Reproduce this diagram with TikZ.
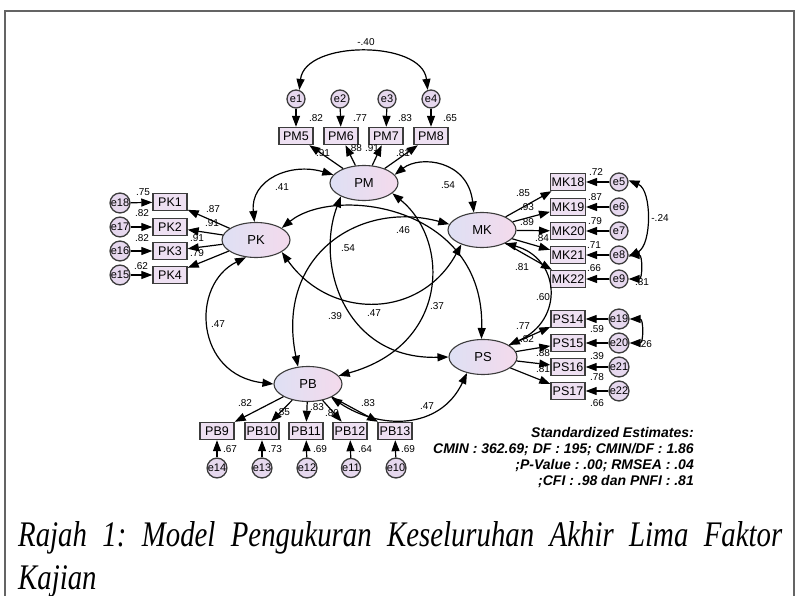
\documentclass[tikz,border=0pt]{standalone}
\usepackage{fontspec}
\setmainfont{Liberation Sans}
\newfontfamily\capfont[FakeStretch=0.8]{Liberation Serif}
\usetikzlibrary{shapes.geometric,arrows.meta}

\definecolor{latleft}{RGB}{222,224,244}
\definecolor{latright}{RGB}{244,218,236}
\definecolor{obsfill}{RGB}{238,224,242}
\definecolor{errfill}{RGB}{230,216,238}
\definecolor{linegray}{RGB}{60,60,60}
\definecolor{boxline}{RGB}{100,100,100}

\tikzset{
  lat_n/.style = {ellipse, draw=linegray, line width=1.1pt, left color=latleft, right color=latright,
    minimum width=68pt, minimum height=35pt, inner sep=0pt, font=\fontsize{13}{13}\selectfont},
  obs_n/.style = {rectangle, draw=linegray, line width=1.4pt, fill=obsfill, minimum width=34pt,
    minimum height=17pt, inner sep=1pt, font=\fontsize{12.5}{12.5}\selectfont},
  err_n/.style = {circle, draw=linegray, line width=1.3pt, fill=errfill, minimum size=18pt,
    inner sep=0pt, font=\fontsize{11}{11}\selectfont},
  est_n/.style = {inner sep=0pt, font=\fontsize{10}{10}\selectfont},
  reg_a/.style = {-{Triangle[length=11pt,width=8pt]}, line width=1.2pt},
  cov_a/.style = {{Triangle[length=11pt,width=8pt]}-{Triangle[length=11pt,width=8pt]}, line width=1.2pt},
  cap_n/.style = {inner sep=0pt, font=\capfont\itshape\fontsize{36}{36}\selectfont}
}

\begin{document}
\frenchspacing
\begin{tikzpicture}[x=1pt, y=-1pt]
\useasboundingbox (0,0) rectangle (798,596);
\draw[line width=1.3pt, draw=boxline] (5,596) -- (5,11) -- (794,11) -- (794,596);

% latent factors
\node[lat_n] (pm) at (364,183) {PM};
\node[lat_n] (pk) at (256,240) {PK};
\node[lat_n] (mk) at (482,230) {MK};
\node[lat_n] (ps) at (483,357) {PS};
\node[lat_n] (pb) at (308,384) {PB};

% PM items
\node[obs_n] (pm5) at (296,136) {PM5};
\node[obs_n] (pm6) at (341,136) {PM6};
\node[obs_n] (pm7) at (386,136) {PM7};
\node[obs_n] (pm8) at (431,136) {PM8};
\node[err_n] (e1) at (296,99) {e1};
\node[err_n] (e2) at (340,99) {e2};
\node[err_n] (e3) at (387,99) {e3};
\node[err_n] (e4) at (431,99) {e4};

% PK items
\node[obs_n] (pk1) at (170,202) {PK1};
\node[obs_n] (pk2) at (170,227) {PK2};
\node[obs_n] (pk3) at (170,251) {PK3};
\node[obs_n] (pk4) at (170,275) {PK4};
\node[err_n] (e18) at (120,203) {e18};
\node[err_n] (e17) at (120,227) {e17};
\node[err_n] (e16) at (120,251) {e16};
\node[err_n] (e15) at (120,275) {e15};

% MK items
\node[obs_n] (mk18) at (568,182) {MK18};
\node[obs_n] (mk19) at (568,207) {MK19};
\node[obs_n] (mk20) at (568,231) {MK20};
\node[obs_n] (mk21) at (568,255) {MK21};
\node[obs_n] (mk22) at (568,279) {MK22};
\node[err_n] (e5) at (619,182) {e5};
\node[err_n] (e6) at (619,207) {e6};
\node[err_n] (e7) at (619,231) {e7};
\node[err_n] (e8) at (619,255) {e8};
\node[err_n] (e9) at (619,279) {e9};

% PS items
\node[obs_n] (ps14) at (568,319) {PS14};
\node[obs_n] (ps15) at (568,343) {PS15};
\node[obs_n] (ps16) at (568,367) {PS16};
\node[obs_n] (ps17) at (568,391) {PS17};
\node[err_n] (e19) at (619,319) {e19};
\node[err_n] (e20) at (619,343) {e20};
\node[err_n] (e21) at (619,367) {e21};
\node[err_n] (e22) at (619,391) {e22};

% PB items
\node[obs_n] (pb9) at (217,431) {PB9};
\node[obs_n] (pb10) at (262,431) {PB10};
\node[obs_n] (pb11) at (306,431) {PB11};
\node[obs_n] (pb12) at (350,431) {PB12};
\node[obs_n] (pb13) at (395,431) {PB13};
\node[err_n] (e14) at (217,468) {e14};
\node[err_n] (e13) at (262,468) {e13};
\node[err_n] (e12) at (307,468) {e12};
\node[err_n] (e11) at (351,468) {e11};
\node[err_n] (e10) at (396,468) {e10};

% loadings and errors
\draw[reg_a] (pm) -- (pm5); \draw[reg_a] (pm) -- (pm6); \draw[reg_a] (pm) -- (pm7); \draw[reg_a] (pm) -- (pm8);
\draw[reg_a] (e1) -- (pm5); \draw[reg_a] (e2) -- (pm6); \draw[reg_a] (e3) -- (pm7); \draw[reg_a] (e4) -- (pm8);
\draw[reg_a] (pk) -- (pk1); \draw[reg_a] (pk) -- (pk2); \draw[reg_a] (pk) -- (pk3); \draw[reg_a] (pk) -- (pk4);
\draw[reg_a] (e18) -- (pk1); \draw[reg_a] (e17) -- (pk2); \draw[reg_a] (e16) -- (pk3); \draw[reg_a] (e15) -- (pk4);
\draw[reg_a] (mk) -- (mk18); \draw[reg_a] (mk) -- (mk19); \draw[reg_a] (mk) -- (mk20);
\draw[reg_a] (mk) -- (mk21); \draw[reg_a] (mk) -- (mk22);
\draw[reg_a] (e5) -- (mk18); \draw[reg_a] (e6) -- (mk19); \draw[reg_a] (e7) -- (mk20);
\draw[reg_a] (e8) -- (mk21); \draw[reg_a] (e9) -- (mk22);
\draw[reg_a] (ps) -- (ps14); \draw[reg_a] (ps) -- (ps15); \draw[reg_a] (ps) -- (ps16); \draw[reg_a] (ps) -- (ps17);
\draw[reg_a] (e19) -- (ps14); \draw[reg_a] (e20) -- (ps15); \draw[reg_a] (e21) -- (ps16); \draw[reg_a] (e22) -- (ps17);
\draw[reg_a] (pb) -- (pb9); \draw[reg_a] (pb) -- (pb10); \draw[reg_a] (pb) -- (pb11);
\draw[reg_a] (pb) -- (pb12); \draw[reg_a] (pb) -- (pb13);
\draw[reg_a] (e14) -- (pb9); \draw[reg_a] (e13) -- (pb10); \draw[reg_a] (e12) -- (pb11);
\draw[reg_a] (e11) -- (pb12); \draw[reg_a] (e10) -- (pb13);

% covariances
\draw[cov_a] (pk.95) .. controls (250,180) and (290,162) .. (pm.165);
\draw[cov_a] (pm.15) .. controls (420,155) and (468,160) .. (mk.115);
\draw[cov_a] (pk.25) .. controls (335,185) and (485,205) .. (ps.95);
\draw[cov_a] (mk.170) .. controls (360,200) and (275,255) .. (pb.120);
\draw[cov_a] (pm.210) .. controls (315,265) and (345,360) .. (ps.west);
\draw[cov_a] (pm.340) .. controls (450,240) and (450,345) .. (pb.15);
\draw[cov_a] (pk.335) .. controls (330,320) and (420,320) .. (mk.215);
\draw[cov_a] (pk.240) .. controls (190,285) and (195,375) .. (pb.west);
\draw[cov_a] (mk.330) .. controls (560,258) and (565,320) .. (ps.25);
\draw[cov_a] (pb.330) .. controls (380,430) and (440,430) .. (ps.225);
\draw[cov_a] (e1.70) .. controls (305,40) and (422,40) .. (e4.110);
\draw[cov_a] (e5.10) .. controls (652,190) and (652,245) .. (e8.350);
\draw[cov_a] (e8.east) .. controls +(14,0) and +(14,0) .. (e9.east);
\draw[cov_a] (e19.east) .. controls +(14,0) and +(14,0) .. (e20.east);

% estimates
\node[est_n] (c_e1e4) at (366,42) {-.40};
\node[est_n] (r_pm5) at (316,118) {.82};
\node[est_n] (r_pm6) at (360,118) {.77};
\node[est_n] (r_pm7) at (405,118) {.83};
\node[est_n] (r_pm8) at (450,118) {.65};
\node[est_n] (l_pm5) at (323,153) {.91};
\node[est_n] (l_pm6) at (355,148) {.88};
\node[est_n] (l_pm7) at (372,148) {.91};
\node[est_n] (l_pm8) at (403,153) {.81};
\node[est_n] (r_pk1) at (143,192) {.75};
\node[est_n] (r_pk2) at (142,213) {.82};
\node[est_n] (r_pk3) at (142,238) {.82};
\node[est_n] (r_pk4) at (141,266) {.62};
\node[est_n] (l_pk1) at (213,209) {.87};
\node[est_n] (l_pk2) at (212,223) {.91};
\node[est_n] (l_pk3) at (197,238) {.91};
\node[est_n] (l_pk4) at (197,253) {.79};
\node[est_n] (r_mk18) at (596,172) {.72};
\node[est_n] (r_mk19) at (595,197) {.87};
\node[est_n] (r_mk20) at (595,221) {.79};
\node[est_n] (r_mk21) at (594,245) {.71};
\node[est_n] (r_mk22) at (594,268) {.66};
\node[est_n] (l_mk18) at (523,193) {.85};
\node[est_n] (l_mk19) at (527,207) {.93};
\node[est_n] (l_mk20) at (527,222) {.89};
\node[est_n] (l_mk21) at (542,238) {.84};
\node[est_n] (l_mk22) at (522,267) {.81};
\node[est_n] (c_e5e8) at (660,218) {-.24};
\node[est_n] (c_e8e9) at (642,282) {.31};
\node[est_n] (r_ps14) at (597,329) {.59};
\node[est_n] (r_ps15) at (597,356) {.39};
\node[est_n] (r_ps16) at (597,377) {.78};
\node[est_n] (r_ps17) at (597,403) {.66};
\node[est_n] (l_ps14) at (523,326) {.77};
\node[est_n] (l_ps15) at (527,339) {.82};
\node[est_n] (l_ps16) at (543,353) {.88};
\node[est_n] (l_ps17) at (543,369) {.81};
\node[est_n] (c_e19e20) at (645,344) {.26};
\node[est_n] (r_pb9) at (230,449) {.67};
\node[est_n] (r_pb10) at (275,449) {.73};
\node[est_n] (r_pb11) at (320,449) {.69};
\node[est_n] (r_pb12) at (365,449) {.64};
\node[est_n] (r_pb13) at (408,449) {.69};
\node[est_n] (l_pb9) at (245,403) {.82};
\node[est_n] (l_pb10) at (283,412) {.85};
\node[est_n] (l_pb11) at (317,407) {.83};
\node[est_n] (l_pb12) at (332,413) {.80};
\node[est_n] (l_pb13) at (368,403) {.83};
\node[est_n] (c_pmpk) at (282,187) {.41};
\node[est_n] (c_pmmk) at (448,185) {.54};
\node[est_n] (c_pkps) at (403,230) {.46};
\node[est_n] (c_pkmk) at (348,248) {.54};
\node[est_n] (c_mkpb) at (335,316) {.39};
\node[est_n] (c_pmps) at (374,313) {.47};
\node[est_n] (c_pmpb) at (437,306) {.37};
\node[est_n] (c_pkpb) at (218,324) {.47};
\node[est_n] (c_mkps) at (543,297) {.60};
\node[est_n] (c_pbps) at (427,406) {.47};

% fit indices
\node[inner sep=0pt, anchor=east, align=right, font=\fontsize{14}{16}\selectfont\bfseries\itshape]
  (fit_txt) at (694,458) {Standardized Estimates:\\CMIN : 362.69; DF : 195; CMIN/DF : 1.86\\;P-Value : .00; RMSEA : .04\\;CFI : .98 dan PNFI : .81};

% caption
\node[cap_n, anchor=base west] (cap_a) at (18,546) {\makebox[764pt][s]{Rajah 1: Model Pengukuran Keseluruhan Akhir Lima Faktor}};
\node[cap_n, anchor=base west] (cap_b) at (18,589) {Kajian};
\end{tikzpicture}
\end{document}
